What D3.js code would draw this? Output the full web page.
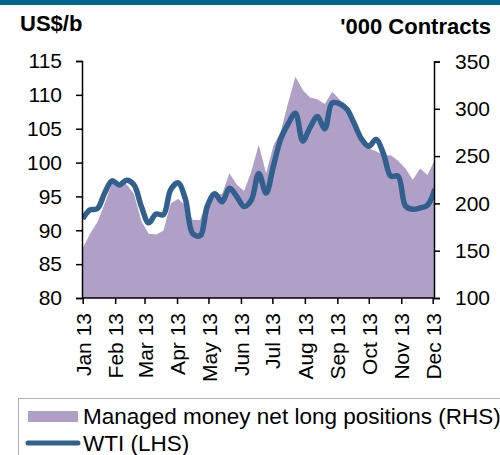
<!DOCTYPE html>
<html><head><meta charset="utf-8">
<script src="https://cdn.jsdelivr.net/npm/d3@7"></script>
<style>body{margin:0;background:#fff}svg{display:block;font-family:"Liberation Sans",Arial,sans-serif}</style>
</head><body><svg id="c" width="500" height="455"></svg>
<script>
const startDate = "2013-01-01"; // weekly observations
const wti = [91.7,93.0,93.2,95.5,97.3,96.7,97.4,96.7,93.5,91.1,92.4,92.3,96.0,97.0,94.6,89.5,89.2,93.6,95.4,94.2,96.2,95.0,93.5,94.5,98.4,95.5,99.5,103.5,105.7,107.3,103.2,105.2,106.8,105.0,108.8,108.7,107.9,105.8,103.5,102.4,103.4,101.3,98.0,98.0,93.6,93.1,93.3,93.7,96.1];
const managedMoney = [152.5,168,180,200,221,222,220,210,181,168,167,171,200,205,198,182.5,182.5,203,209,210,232,220,213,234,262,232,261,276,306,334,320,312,310,305,318,310,299,286,271,258,255,251,251,245,237,225,237,230,246];
const leftTicks = [80,85,90,95,100,105,110,115];
const rightTicks = [100,150,200,250,300,350];
const monthLabels = ["Jan 13","Feb 13","Mar 13","Apr 13","May 13","Jun 13","Jul 13","Aug 13","Sep 13","Oct 13","Nov 13","Dec 13"];
const seriesNames = ["Managed money net long positions (RHS)","WTI (LHS)"];
const unitsLeft = "US$/b", unitsRight = "'000 Contracts";

const svg = d3.select("#c");
const t0 = new Date(Date.UTC(2013,0,1));
const dates = wti.map((_,i)=>new Date(t0.getTime()+i*7*864e5));
const monthDates = monthLabels.map((_,i)=>new Date(Date.UTC(2013,i,1)));

const x = d3.scaleUtc().domain([monthDates[0], monthDates[11]]).range([82.7, 432.7]);
const yL = d3.scaleLinear().domain([80,115]).range([298,61]);
const yR = d3.scaleLinear().domain([100,350]).range([298,61.5]);
const xL = 82, xR = 434;

// top banner
svg.append("rect").attr("x",0).attr("y",0).attr("width",500).attr("height",5).attr("fill","#00668f");

svg.append("defs").append("clipPath").attr("id","pc").append("rect")
  .attr("x",xL).attr("y",40).attr("width",xR-xL).attr("height",260);

const g = svg.append("g").attr("clip-path","url(#pc)");
g.append("path").datum(managedMoney)
  .attr("d", d3.area().x((d,i)=>x(dates[i])).y0(yR(100)).y1(d=>yR(d)))
  .attr("fill","#b09fc6");
g.append("path").datum(wti)
  .attr("d", d3.line().x((d,i)=>x(dates[i])).y(d=>yL(d)).curve(d3.curveCatmullRom.alpha(0.5)))
  .attr("fill","none").attr("stroke","#31608f").attr("stroke-width",5.5).attr("stroke-linejoin","round");

const fs = 21;
// left axis
const ga = svg.append("g").attr("transform",`translate(${xL},0)`)
  .call(d3.axisLeft(yL).tickValues(leftTicks).tickSize(6).tickPadding(14));
const gb = svg.append("g").attr("transform",`translate(${xR},0)`)
  .call(d3.axisRight(yR).tickValues(rightTicks).tickSize(6).tickPadding(15));
const gx = svg.append("g").attr("transform",`translate(0,298)`)
  .call(d3.axisBottom(x).tickValues(monthDates).tickFormat((d,i)=>monthLabels[i]).tickSize(6).tickSizeOuter(0));
gx.select(".domain").attr("d",`M${xL},0H${xR}`);
gx.selectAll("text").attr("transform","rotate(-90)").attr("text-anchor","end")
  .attr("x",-15).attr("y",0).attr("dy","0.36em");
[ga,gb,gx].forEach(a=>{
  a.selectAll("text").attr("font-size",fs).attr("font-family","Liberation Sans, Arial").attr("fill","#000");
  a.selectAll("line,.domain").attr("stroke","#000").attr("stroke-width",1.5);
});

svg.append("text").attr("x",20).attr("y",31).attr("font-size",22).attr("font-weight","bold").text(unitsLeft);
svg.append("text").attr("x",491).attr("y",34).attr("text-anchor","end").attr("font-size",22).attr("font-weight","bold").text(unitsRight);

// legend
svg.append("rect").attr("x",18.5).attr("y",398.5).attr("width",490).attr("height",70)
  .attr("fill","#fff").attr("stroke","#b0b0b0").attr("stroke-width",1);
svg.append("rect").attr("x",28).attr("y",411).attr("width",50).attr("height",11).attr("fill","#b09fc6");
svg.append("text").attr("x",83).attr("y",424).attr("font-size",22.5).text(seriesNames[0]);
svg.append("line").attr("x1",28).attr("x2",78).attr("y1",443).attr("y2",443)
  .attr("stroke","#31608f").attr("stroke-width",5).attr("stroke-linecap","round");
svg.append("text").attr("x",83).attr("y",451).attr("font-size",22.5).text(seriesNames[1]);
</script></body></html>
